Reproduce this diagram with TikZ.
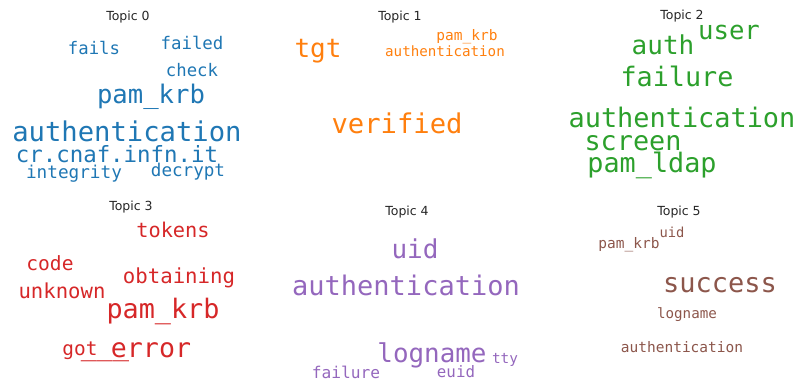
\documentclass[tikz,border=0pt]{standalone}
\usepackage{fontspec}
\setmainfont{DejaVu Sans}
\newfontfamily\wordfont{DejaVu Sans Mono}

\definecolor{tabblue}{HTML}{1F77B4}
\definecolor{taborange}{HTML}{FF7F0E}
\definecolor{tabgreen}{HTML}{2CA02C}
\definecolor{tabred}{HTML}{D62728}
\definecolor{tabpurple}{HTML}{9467BD}
\definecolor{tabbrown}{HTML}{8C564B}

\begin{document}
\begin{tikzpicture}
[
    x=1pt, y=-1pt,
    word/.style={anchor=base, inner sep=0pt, font=\fontsize{#1}{#1}\selectfont\wordfont},
    topictitle/.style={anchor=base, inner sep=0pt, text=black!85, font=\fontsize{12.5}{13}\selectfont}
]
    \useasboundingbox (0,0) rectangle (799,385);

    % topic 0
    \begin{scope}[tabblue]
        \node [topictitle] (t0title) at (128, 21) {Topic 0};
        \node [word=17.3] (t0fails) at (94, 55) {fails};
        \node [word=17.4] (t0failed) at (192, 50) {failed};
        \node [word=17.3] (t0check) at (192, 77) {check};
        \node [word=25.6] (t0pamkrb) at (151, 103) {pam\_krb};
        \node [word=27.2] (t0auth) at (127, 141) {authentication};
        \node [word=22.4] (t0host) at (117, 162) {cr.cnaf.infn.it};
        \node [word=17.7] (t0integrity) at (74, 178) {integrity};
        \node [word=17.6] (t0decrypt) at (188, 176) {decrypt};
    \end{scope}

    % topic 1
    \begin{scope}[taborange]
        \node [topictitle] (t1title) at (400, 21) {Topic 1};
        \node [word=26] (t1tgt) at (318, 58) {tgt};
        \node [word=14.5] (t1pamkrb) at (467, 41) {pam\_krb};
        \node [word=14.2] (t1auth) at (445, 57) {authentication};
        \node [word=27.2] (t1verified) at (397, 133) {verified};
    \end{scope}

    % topic 2
    \begin{scope}[tabgreen]
        \node [topictitle] (t2title) at (682, 20) {Topic 2};
        \node [word=25.7] (t2user) at (729, 40) {user};
        \node [word=26] (t2authshort) at (663, 55) {auth};
        \node [word=26.8] (t2failure) at (677, 87) {failure};
        \node [word=26.9] (t2auth) at (682, 127) {authentication};
        \node [word=26.8] (t2screen) at (633, 150) {screen};
        \node [word=26.8] (t2pamldap) at (652, 172) {pam\_ldap};
    \end{scope}

    % topic 3
    \begin{scope}[tabred]
        \node [topictitle] (t3title) at (131, 210) {Topic 3};
        \node [word=20.3] (t3tokens) at (173, 237) {tokens};
        \node [word=19.6] (t3code) at (50, 270) {code};
        \node [word=20.7] (t3obtaining) at (179, 283) {obtaining};
        \node [word=20.6] (t3unknown) at (62, 298) {unknown};
        \node [word=26.8] (t3pamkrb) at (163, 318) {pam\_krb};
        \node [word=19.4] (t3got) at (80, 355) {got};
        \node [word=26.6] (t3under) at (105, 355) {\_\_\_};
        \node [word=26.6] (t3error) at (151, 357) {error};
    \end{scope}

    % topic 4
    \begin{scope}[tabpurple]
        \node [topictitle] (t4title) at (407, 215) {Topic 4};
        \node [word=26] (t4uid) at (415, 258) {uid};
        \node [word=27] (t4auth) at (406, 295) {authentication};
        \node [word=25.9] (t4logname) at (432, 362) {logname};
        \node [word=14.4] (t4tty) at (505, 363) {tty};
        \node [word=16.2] (t4failure) at (346, 378) {failure};
        \node [word=15.8] (t4euid) at (456, 377) {euid};
    \end{scope}

    % topic 5
    \begin{scope}[tabbrown]
        \node [topictitle] (t5title) at (679, 215) {Topic 5};
        \node [word=13.8] (t5uid) at (672, 237) {uid};
        \node [word=14.5] (t5pamkrb) at (629, 248) {pam\_krb};
        \node [word=27] (t5success) at (720, 292) {success};
        \node [word=14.2] (t5logname) at (687, 318) {logname};
        \node [word=14.5] (t5auth) at (682, 352) {authentication};
    \end{scope}
\end{tikzpicture}
\end{document}
